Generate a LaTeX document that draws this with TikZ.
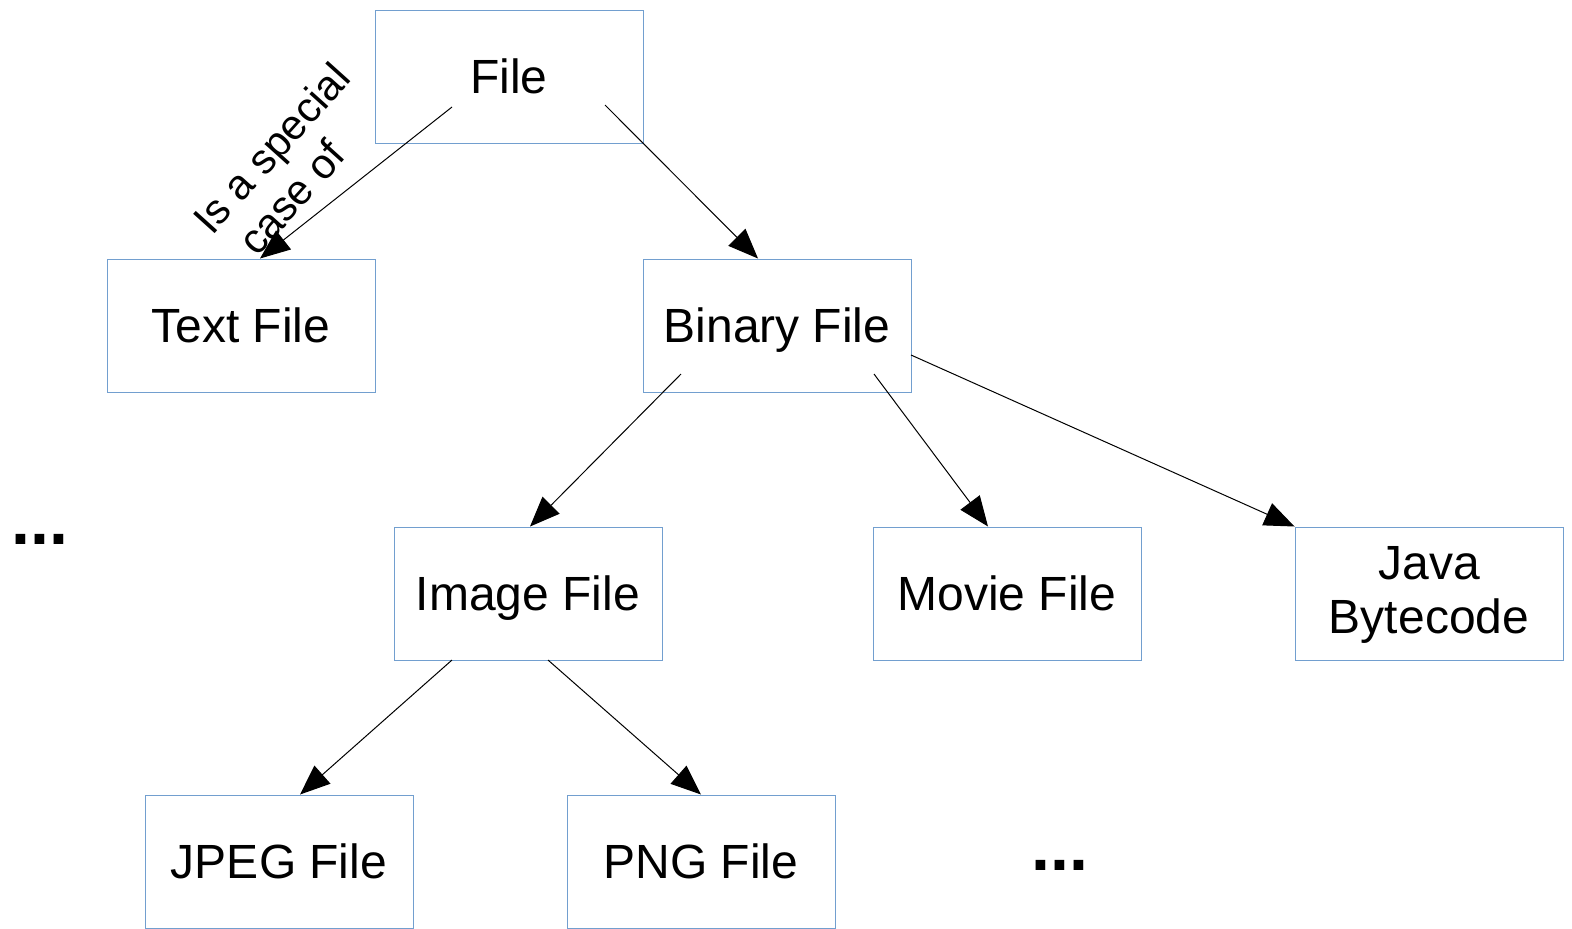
\documentclass[tikz,border=0pt]{standalone}
\usepackage{fontspec}
\setmainfont{Liberation Sans}
\usetikzlibrary{arrows.meta}

\definecolor{boxblue}{RGB}{114,159,207}

\begin{document}
\begin{tikzpicture}[x=0.5pt, y=-0.5pt,
    filebox/.style={draw=boxblue, line width=0.5pt, minimum width=134pt, minimum height=66.5pt,
        inner sep=0pt, align=center, text depth=0pt, font=\fontsize{24}{27}\selectfont},
    isa/.style={draw, line width=0.5pt, -{Triangle[length=15pt, width=12pt]}},
    moredots/.style={font=\bfseries\fontsize{34}{36}\selectfont, inner sep=0pt}]
    \useasboundingbox (0,0) rectangle (1572,928);

    % Draw the boxes
    \node[filebox] (file)   at (509,76.5)   {File};
    \node[filebox] (textf)  at (241,325.5)  {Text File};
    \node[filebox] (binf)   at (777,325.5)  {Binary File};
    \node[filebox] (imgf)   at (528,593.5)  {Image File};
    \node[filebox] (movf)   at (1007,593.5) {Movie File};
    \node[filebox, text depth=4pt] (javaf) at (1429,593.5) {Java\\Bytecode};
    \node[filebox] (jpegf)  at (279,861.5)  {JPEG File};
    \node[filebox] (pngf)   at (701,861.5)  {PNG File};

    % Draw the dots
    \node[moredots] (dotsl) at (40,539)   {...};
    \node[moredots] (dotsb) at (1060,865) {...};

    % Draw the start points
    \coordinate (file-l) at (452,107);
    \coordinate (file-r) at (605,105);
    \coordinate (binf-l) at (681,374);
    \coordinate (binf-m) at (874,374);
    \coordinate (binf-r) at (911,355);
    \coordinate (imgf-l) at (452,660);
    \coordinate (imgf-r) at (548,660);

    % Draw the arrows
    \draw[isa] (file-l) -- ([xshift=9.5pt]textf.north);
    \draw[isa] (file-r) -- ([xshift=-9.5pt]binf.north);
    \draw[isa] (binf-l) -- ([xshift=1pt]imgf.north);
    \draw[isa] (binf-m) -- ([xshift=-9.5pt]movf.north);
    \draw[isa] (binf-r) -- (javaf.north west);
    \draw[isa] (imgf-l) -- ([xshift=10.5pt]jpegf.north);
    \draw[isa] (imgf-r) -- (pngf.north);

    % Draw the label
    \node[rotate=48, align=left, font=\fontsize{21}{24}\selectfont] (speclbl) at (289,164) {Is a special\\\hspace{7pt}case of};
\end{tikzpicture}
\end{document}
